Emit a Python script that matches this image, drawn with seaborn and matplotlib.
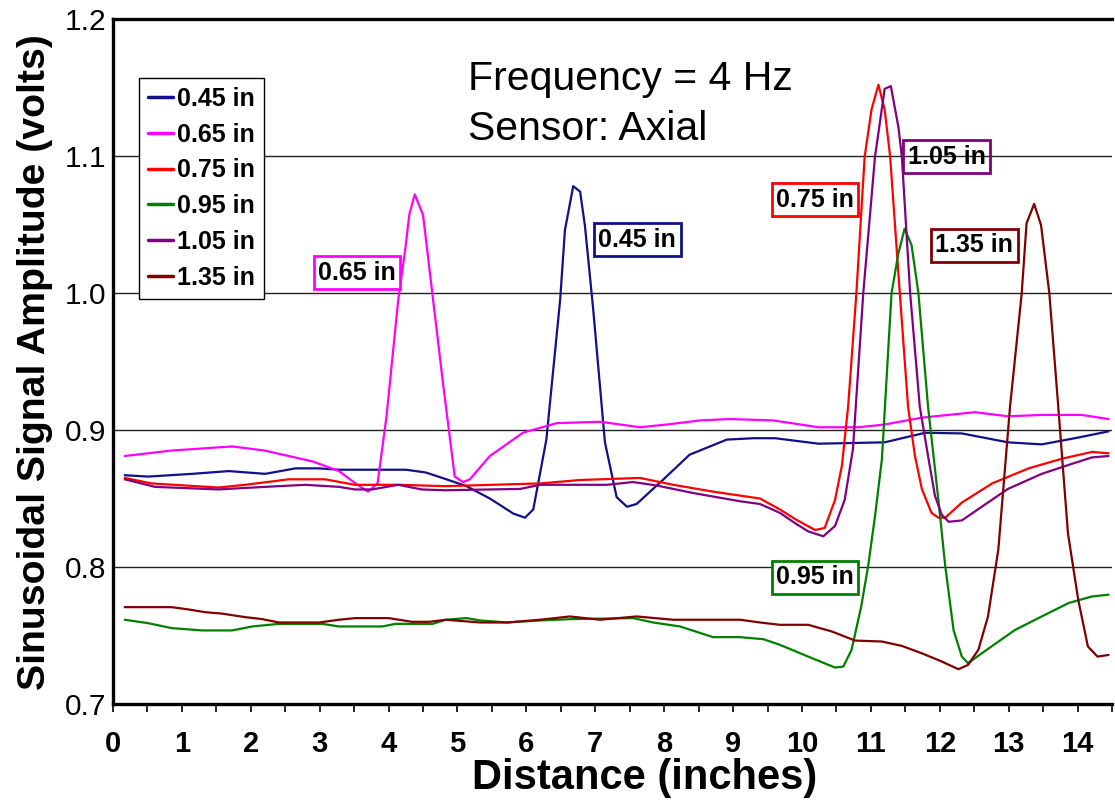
import numpy as np
import pandas as pd
import matplotlib
matplotlib.use("Agg")
import matplotlib.pyplot as plt
from matplotlib.ticker import MultipleLocator
import seaborn as sns

# ---- measured amplitude traces (distance in inches, amplitude in volts) ----
x_045 = [0.17, 0.51, 1.15, 1.68, 2.21, 2.65, 2.99, 3.28, 4.25, 4.54, 4.84, 5.13, 5.47, 5.81, 5.98,
         6.10, 6.29, 6.49, 6.56, 6.68, 6.78, 6.85, 6.97, 7.14, 7.31, 7.46, 7.60, 7.99, 8.37, 8.91,
         9.30, 9.61, 10.24, 11.20, 11.79, 12.32, 12.99, 13.48, 13.96, 14.45]
y_045 = [0.867, 0.866, 0.868, 0.870, 0.868, 0.872, 0.872, 0.871, 0.871, 0.869, 0.864, 0.859, 0.850,
         0.839, 0.836, 0.842, 0.893, 0.995, 1.046, 1.078, 1.074, 1.049, 0.988, 0.891, 0.851, 0.844,
         0.846, 0.864, 0.882, 0.893, 0.894, 0.894, 0.890, 0.891, 0.898, 0.8975, 0.891, 0.8895, 0.894,
         0.899]

x_065 = [0.17, 0.85, 1.73, 2.20, 2.90, 3.28, 3.52, 3.70, 3.84, 3.97, 4.14, 4.24, 4.30, 4.38, 4.50,
         4.79, 4.96, 5.08, 5.18, 5.47, 5.95, 6.44, 7.07, 7.65, 8.04, 8.52, 8.95, 9.58, 10.24, 10.82,
         11.20, 11.74, 12.51, 12.99, 13.48, 14.06, 14.45]
y_065 = [0.881, 0.885, 0.888, 0.885, 0.877, 0.870, 0.861, 0.855, 0.861, 0.910, 0.995, 1.031, 1.057,
         1.072, 1.057, 0.934, 0.866, 0.862, 0.864, 0.881, 0.898, 0.905, 0.906, 0.902, 0.904, 0.907,
         0.908, 0.907, 0.902, 0.902, 0.904, 0.909, 0.913, 0.910, 0.911, 0.911, 0.908]

x_075 = [0.17, 0.56, 1.53, 1.92, 2.55, 3.08, 3.51, 4.14, 4.82, 5.50, 6.20, 6.78, 7.65, 8.13, 8.71,
         9.39, 9.68, 9.90, 10.19, 10.33, 10.48, 10.58, 10.67, 10.79, 10.91, 11.01, 11.11, 11.20,
         11.28, 11.42, 11.54, 11.64, 11.74, 11.88, 11.98, 12.08, 12.32, 12.76, 13.29, 13.77, 14.21,
         14.45]
y_075 = [0.865, 0.861, 0.858, 0.860, 0.864, 0.864, 0.860, 0.860, 0.859, 0.860, 0.861, 0.8635, 0.865,
         0.860, 0.855, 0.850, 0.842, 0.835, 0.827, 0.8285, 0.849, 0.874, 0.917, 1.000, 1.0995, 1.134,
         1.152, 1.134, 1.0995, 1.000, 0.917, 0.881, 0.857, 0.8395, 0.836, 0.836, 0.847, 0.861, 0.872,
         0.879, 0.884, 0.883]

x_095 = [0.17, 0.51, 0.85, 1.29, 1.73, 2.02, 2.41, 3.04, 3.28, 3.91, 4.10, 4.64, 4.83, 5.13, 5.33,
         5.72, 6.20, 6.68, 7.55, 7.84, 8.23, 8.71, 9.10, 9.44, 9.68, 10.09, 10.48, 10.60, 10.72,
         10.86, 10.96, 11.06, 11.16, 11.30, 11.40, 11.49, 11.59, 11.69, 11.83, 11.98, 12.08, 12.20,
         12.32, 12.41, 12.61, 13.09, 13.48, 13.87, 14.21, 14.45]
y_095 = [0.7615, 0.759, 0.7554, 0.7537, 0.7537, 0.7566, 0.7585, 0.7585, 0.7566, 0.7566, 0.7585,
         0.7585, 0.7615, 0.7627, 0.761, 0.7595, 0.761, 0.762, 0.7627, 0.7595, 0.7566, 0.7488, 0.7488,
         0.7473, 0.7432, 0.7346, 0.7266, 0.7273, 0.7395, 0.7712, 0.8005, 0.837, 0.8785, 1.000, 1.029,
         1.047, 1.035, 1.000, 0.917, 0.849, 0.8005, 0.754, 0.7346, 0.7298, 0.737, 0.754, 0.7639,
         0.7737, 0.7785, 0.7798]

x_105 = [0.17, 0.61, 1.53, 2.21, 2.79, 3.28, 3.51, 3.76, 4.14, 4.48, 4.82, 5.91, 6.20, 6.68, 7.17,
         7.55, 7.89, 8.42, 9.10, 9.39, 9.68, 9.90, 10.09, 10.31, 10.48, 10.62, 10.74, 10.89, 11.06,
         11.11, 11.20, 11.29, 11.40, 11.45, 11.57, 11.71, 11.83, 11.93, 12.03, 12.13, 12.32, 12.61,
         12.99, 13.48, 13.96, 14.21, 14.45]
y_105 = [0.864, 0.8585, 0.8566, 0.8585, 0.860, 0.8585, 0.8566, 0.8566, 0.860, 0.8566, 0.856, 0.857,
         0.860, 0.860, 0.860, 0.862, 0.8595, 0.854, 0.848, 0.846, 0.8395, 0.832, 0.826, 0.8224, 0.830,
         0.849, 0.886, 1.000, 1.0995, 1.117, 1.149, 1.151, 1.121, 1.0995, 1.000, 0.917, 0.881, 0.852,
         0.838, 0.833, 0.834, 0.844, 0.857, 0.868, 0.876, 0.880, 0.881]

x_135 = [0.17, 0.85, 1.10, 1.34, 1.58, 1.92, 2.16, 2.41, 2.99, 3.28, 3.52, 4.00, 4.34, 4.59, 4.83,
         5.33, 5.72, 6.20, 6.63, 7.07, 7.60, 8.13, 9.10, 9.39, 9.68, 10.09, 10.43, 10.77, 11.16,
         11.45, 11.74, 12.03, 12.27, 12.41, 12.56, 12.70, 12.85, 13.02, 13.19, 13.26, 13.37, 13.47,
         13.59, 13.72, 13.86, 14.01, 14.15, 14.29, 14.45]
y_135 = [0.7707, 0.7707, 0.769, 0.767, 0.766, 0.7634, 0.762, 0.7595, 0.7595, 0.7615, 0.7627, 0.7627,
         0.760, 0.760, 0.7615, 0.7595, 0.7595, 0.7615, 0.7639, 0.7615, 0.7639, 0.7615, 0.7615, 0.7595,
         0.7578, 0.7578, 0.753, 0.7463, 0.7456, 0.7424, 0.737, 0.731, 0.7254, 0.7285, 0.7395, 0.7639,
         0.8127, 0.917, 1.000, 1.051, 1.065, 1.0496, 1.000, 0.917, 0.8249, 0.776, 0.742, 0.7346,
         0.7358]

depth_labels = ["0.45 in", "0.65 in", "0.75 in", "0.95 in", "1.05 in", "1.35 in"]
series_x = [x_045, x_065, x_075, x_095, x_105, x_135]
series_y = [y_045, y_065, y_075, y_095, y_105, y_135]
colors = ["#10108a", "#ff00ff", "#ff0000", "#008000", "#800080", "#800000"]

x_ticks = list(range(0, 15))
y_ticks = [0.7, 0.8, 0.9, 1.0, 1.1, 1.2]

# in-plot callout labels: (text, x, y, colour index, filled box)
callouts = [("0.65 in", 3.54, 1.0146, 1, True),
            ("0.45 in", 7.61, 1.0387, 0, True),
            ("1.05 in", 12.10, 1.0993, 4, False),
            ("0.75 in", 10.19, 1.0679, 2, True),
            ("1.35 in", 12.50, 1.0350, 5, True),
            ("0.95 in", 10.19, 0.7927, 3, True)]

# ---- long-form table for seaborn ----
frames = []
for lab, xs, ys in zip(depth_labels, series_x, series_y):
    frames.append(pd.DataFrame({"Distance": xs, "Amplitude": ys, "Depth": lab}))
df = pd.concat(frames, ignore_index=True)

sns.set_theme(style="white")
plt.rcParams["font.family"] = ["Liberation Sans", "DejaVu Sans"]
plt.rcParams.update({"text.color": "black", "axes.labelcolor": "black",
                     "xtick.color": "black", "ytick.color": "black"})

W, H = 1115, 805
fig = plt.figure(figsize=(W / 100, H / 100), dpi=100)
ax = fig.add_axes([113 / W, 1 - 704 / H, 999 / W, 685 / H])

palette = dict(zip(depth_labels, colors))
sns.lineplot(data=df, x="Distance", y="Amplitude", hue="Depth", hue_order=depth_labels,
             palette=palette, sort=False, estimator=None, linewidth=1.6, ax=ax, zorder=3)

ax.set_xlim(0, 14.5)
ax.set_ylim(0.7, 1.2)
ax.set_xlabel("")
ax.set_ylabel("")

# horizontal grid
ax.set_yticks(y_ticks)
ax.set_yticklabels([f"{v:.1f}" for v in y_ticks], fontsize=21.5, color="black")
ax.yaxis.grid(True, color="#222222", linewidth=1.0)
ax.xaxis.grid(False)
ax.set_axisbelow(True)

ax.set_xticks(x_ticks)
ax.set_xticklabels([str(v) for v in x_ticks], fontsize=21, fontweight="bold", color="black")
ax.xaxis.set_minor_locator(MultipleLocator(0.5))
ax.tick_params(axis="x", which="both", direction="out", length=6, width=1.2, color="black",
               bottom=True, pad=13)
ax.tick_params(axis="y", which="both", length=0, pad=5)

for side in ["left", "bottom", "top"]:
    ax.spines[side].set_visible(True)
    ax.spines[side].set_color("black")
    ax.spines[side].set_linewidth(2.4)
ax.spines["right"].set_visible(False)

# legend
handles, labels = ax.get_legend_handles_labels()
leg = ax.legend(handles, labels, loc="upper left", bbox_to_anchor=(0.026, 0.914),
                borderaxespad=0, frameon=True, fancybox=False, framealpha=1,
                edgecolor="black", prop={"weight": "bold", "size": 18},
                handlelength=1.0, handletextpad=0.15, labelspacing=0.47, borderpad=0.36)
leg.get_frame().set_linewidth(1.0)
for h in leg.get_lines():
    h.set_linewidth(2.5)
for t in leg.get_texts():
    t.set_color("black")

# callout boxes
for text, cx, cy, ci, filled in callouts:
    ax.text(cx, cy, text, ha="center", va="center", fontsize=18, fontweight="bold",
            color="black", zorder=6,
            bbox=dict(boxstyle="square,pad=0.18", fc="white" if filled else "none",
                      ec=colors[ci], lw=2))

# condition notes
ax.text(5.15, 1.148, "Frequency = 4 Hz", fontsize=29.5, ha="left", va="baseline", color="black")
ax.text(5.15, 1.1117, "Sensor: Axial", fontsize=29.5, ha="left", va="baseline", color="black")

# axis titles
fig.text(35 / W, 1 - 362 / H, "Sinusoidal Signal Amplitude (volts)", rotation=90,
         ha="center", va="center", fontsize=28.3, fontweight="bold", color="black")
fig.text(645 / W, 1 - 789 / H, "Distance (inches)", ha="center", va="baseline",
         fontsize=30, fontweight="bold", color="black")

fig.savefig("out.png", dpi=100, facecolor="white")
